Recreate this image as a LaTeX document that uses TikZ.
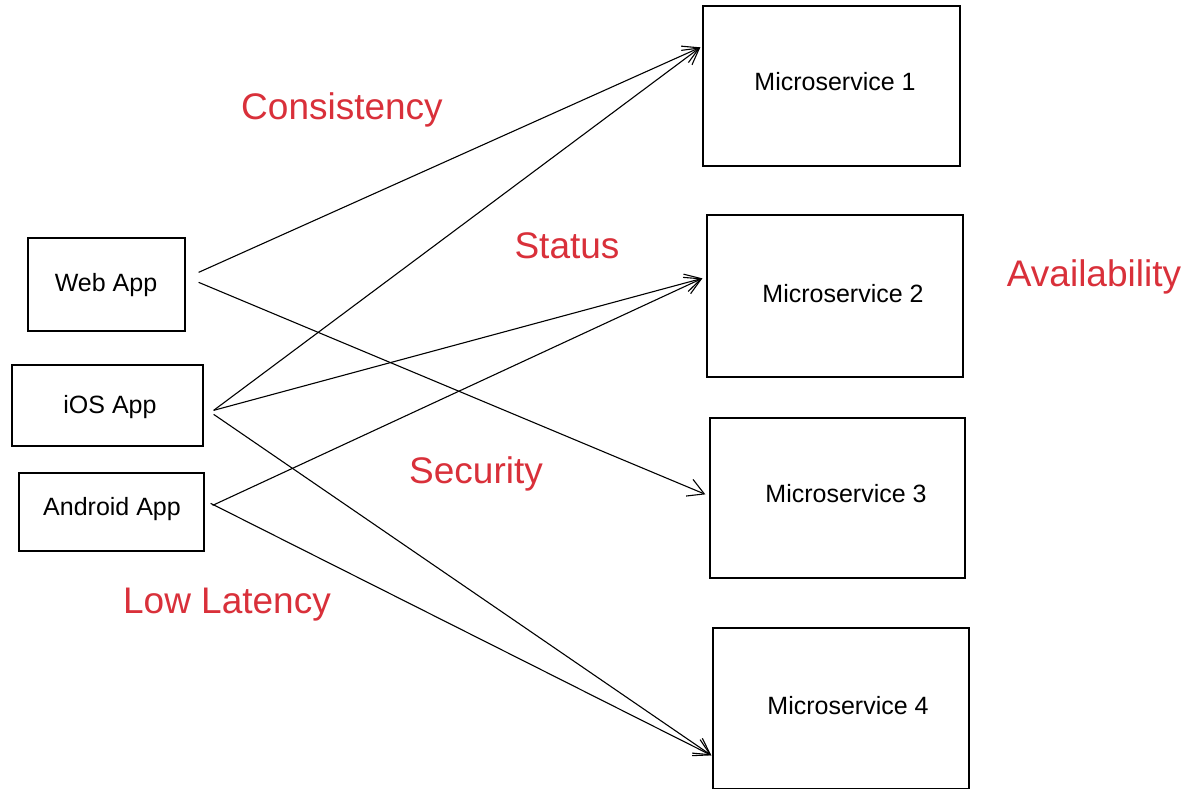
\documentclass[tikz,border=0pt]{standalone}
\usepackage{fontspec}
\setmainfont{Liberation Sans}
\usetikzlibrary{arrows.meta,calc}
\definecolor{redtxt}{HTML}{D9303A}
\tikzset{
  box/.style={draw=black, line width=1.3pt, inner sep=0pt},
  btxt/.style={font=\fontsize{25}{30}\selectfont, text=black, inner sep=0pt},
  rtxt/.style={font=\fontsize{37}{44}\selectfont, text=redtxt, inner sep=0pt},
  conn/.style={draw=black, line width=1.1pt, -{Straight Barb[length=16pt,width=18pt,line width=1.1pt]}}
}
\begin{document}
\begin{tikzpicture}[x=1pt,y=-1pt]
\useasboundingbox (0,0) rectangle (1196,789);
\fill[white] (0,0) rectangle (1196,789);
% left boxes
\node[box, minimum width=157pt, minimum height=93pt] (web) at (106.5,284.5) {};
\node[box, minimum width=191pt, minimum height=81pt] (ios) at (107.5,405.5) {};
\node[box, minimum width=185pt, minimum height=78pt] (andr) at (111.5,512) {};
% right boxes
\node[box, minimum width=257pt, minimum height=160pt] (ms1) at (831.5,86) {};
\node[box, minimum width=256pt, minimum height=162pt] (ms2) at (835,296) {};
\node[box, minimum width=255pt, minimum height=160pt] (ms3) at (837.5,498) {};
\node[box, minimum width=256pt, minimum height=161pt] (ms4) at (841,708.5) {};
% box texts
\node[btxt] (tweb) at (106,285) {Web App};
\node[btxt] (tios) at (110,407) {iOS App};
\node[btxt] (tandr) at (112,509) {Android App};
\node[btxt] (tms1) at (835,82) {Microservice 1};
\node[btxt] (tms2) at (843,294) {Microservice 2};
\node[btxt] (tms3) at (846,494) {Microservice 3};
\node[btxt] (tms4) at (848,706) {Microservice 4};
% red labels
\node[rtxt] (l1) at (342,110) {Consistency};
\node[rtxt] (l2) at (567,246) {Status};
\node[rtxt] (l3) at (1094,277) {Availability};
\node[rtxt] (l4) at (476,474) {Security};
\node[rtxt] (l5) at (227,605) {Low Latency};
% connector endpoints
\coordinate (w1) at ($(web.north east)+(13,35)$);
\coordinate (w2) at ($(web.north east)+(13,45)$);
\coordinate (i1) at ($(ios.north east)+(10,46)$);
\coordinate (i2) at ($(ios.north east)+(10,50)$);
\coordinate (a1) at ($(andr.north east)+(8,33)$);
\coordinate (a2) at ($(andr.north east)+(6,31)$);
\coordinate (e1) at ($(ms1.north west)+(-2,42)$);
\coordinate (e2) at ($(ms2.north west)+(-4,64)$);
\coordinate (e3) at ($(ms3.north west)+(-4,77)$);
\coordinate (e4) at ($(ms4.north west)+(-1,128)$);
% connectors
\draw[conn] (w1) -- (e1);
\draw[conn] (w2) -- (e3);
\draw[conn] (i1) -- (e1);
\draw[conn] (i1) -- (e2);
\draw[conn] (i2) -- (e4);
\draw[conn] (a1) -- (e2);
\draw[conn] (a2) -- (e4);
\end{tikzpicture}
\end{document}
